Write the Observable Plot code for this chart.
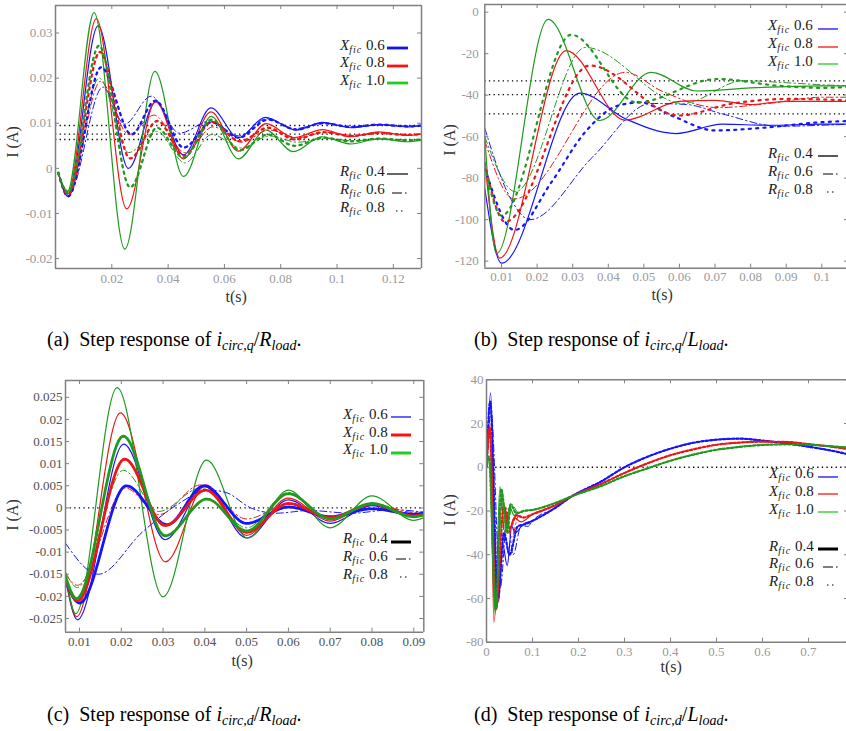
<!DOCTYPE html>
<html><head><meta charset="utf-8">
<script src="https://cdn.jsdelivr.net/npm/d3@7"></script>
<script src="https://cdn.jsdelivr.net/npm/@observablehq/plot@0.6"></script>
<style>
body{margin:0;background:#fff;width:846px;height:731px;overflow:hidden;position:relative;font-family:"Liberation Serif","DejaVu Serif",serif}
.panel{position:absolute}
.lab{position:absolute;color:#333;font-size:16px;white-space:nowrap;line-height:16px}
.leg{position:absolute;font-size:15px;color:#1a1a1a;white-space:nowrap;line-height:15px}
.leg sub{font-size:10px;vertical-align:-3px;letter-spacing:1px}
.cap{position:absolute;font-size:20px;color:#000;white-space:nowrap;line-height:22px}
.cap sub{font-size:14px;vertical-align:-4px}
</style></head><body>
<script>
// ---------- categories ----------
const XFIC = ["0.6", "0.8", "1.0"];
const RFIC = ["0.4", "0.6", "0.8"];

// ---------- panel (a) : i_circ,q / R_load ----------
const a_x06_r04 = [[0.0010,-0.0010],[0.0044,-0.0062],[0.0151,0.0316],[0.0259,0.0000],[0.0357,0.0148],[0.0455,0.0030],[0.0552,0.0134],[0.0650,0.0068],[0.0745,0.0113],[0.0855,0.0085],[0.0948,0.0102],[0.1050,0.0090],[0.1150,0.0097],[0.1250,0.0092],[0.1300,0.0094]];
const a_x08_r04 = [[0.0010,-0.0010],[0.0043,-0.0057],[0.0145,0.0332],[0.0253,-0.0090],[0.0355,0.0148],[0.0455,0.0021],[0.0552,0.0125],[0.0650,0.0038],[0.0748,0.0099],[0.0848,0.0068],[0.0948,0.0086],[0.1048,0.0070],[0.1148,0.0081],[0.1248,0.0073],[0.1300,0.0076]];
const a_x10_r04 = [[0.0010,-0.0010],[0.0042,-0.0052],[0.0137,0.0345],[0.0246,-0.0179],[0.0353,0.0215],[0.0455,-0.0018],[0.0553,0.0115],[0.0650,0.0021],[0.0747,0.0085],[0.0845,0.0037],[0.0945,0.0070],[0.1050,0.0054],[0.1148,0.0066],[0.1250,0.0059],[0.1300,0.0062]];
const a_x06_r06 = [[0.0010,-0.0010],[0.0045,-0.0060],[0.0168,0.0180],[0.0245,0.0098],[0.0340,0.0160],[0.0440,0.0078],[0.0550,0.0105],[0.0650,0.0072],[0.0750,0.0110],[0.0850,0.0088],[0.0950,0.0100],[0.1050,0.0092],[0.1150,0.0097],[0.1250,0.0094],[0.1300,0.0095]];
const a_x08_r06 = [[0.0010,-0.0010],[0.0045,-0.0056],[0.0160,0.0193],[0.0260,0.0075],[0.0350,0.0118],[0.0460,0.0035],[0.0560,0.0092],[0.0660,0.0058],[0.0760,0.0085],[0.0860,0.0068],[0.0960,0.0080],[0.1060,0.0073],[0.1160,0.0078],[0.1260,0.0075],[0.1300,0.0076]];
const a_x10_r06 = [[0.0010,-0.0010],[0.0045,-0.0050],[0.0155,0.0200],[0.0260,0.0035],[0.0360,0.0082],[0.0460,0.0012],[0.0555,0.0075],[0.0660,0.0045],[0.0760,0.0072],[0.0860,0.0058],[0.0960,0.0066],[0.1060,0.0061],[0.1160,0.0065],[0.1260,0.0063],[0.1300,0.0064]];
const a_x06_r08 = [[0.0010,-0.0010],[0.0045,-0.0062],[0.0162,0.0224],[0.0270,0.0075],[0.0355,0.0150],[0.0455,0.0046],[0.0555,0.0102],[0.0650,0.0068],[0.0755,0.0108],[0.0855,0.0086],[0.0950,0.0100],[0.1050,0.0092],[0.1150,0.0097],[0.1250,0.0093],[0.1300,0.0095]];
const a_x08_r08 = [[0.0010,-0.0010],[0.0045,-0.0058],[0.0158,0.0258],[0.0265,0.0022],[0.0362,0.0105],[0.0458,0.0028],[0.0555,0.0103],[0.0655,0.0060],[0.0755,0.0090],[0.0850,0.0064],[0.0950,0.0080],[0.1050,0.0072],[0.1150,0.0078],[0.1250,0.0074],[0.1300,0.0076]];
const a_x10_r08 = [[0.0010,-0.0010],[0.0044,-0.0054],[0.0155,0.0272],[0.0265,-0.0042],[0.0360,0.0090],[0.0455,0.0024],[0.0555,0.0108],[0.0655,0.0040],[0.0755,0.0075],[0.0850,0.0050],[0.0950,0.0068],[0.1050,0.0060],[0.1150,0.0066],[0.1250,0.0062],[0.1300,0.0064]];
const a_refs = [0.0095, 0.0076, 0.0064];
const a_xTicks = [0.02, 0.04, 0.06, 0.08, 0.1, 0.12];
const a_xLabels = ["0.02", "0.04", "0.06", "0.08", "0.1", "0.12"];
const a_yTicks = [-0.02, -0.01, 0, 0.01, 0.02, 0.03];
const a_yLabels = ["-0.02", "-0.01", "0", "0.01", "0.02", "0.03"];

// ---------- panel (b) : i_circ,q / L_load ----------
const b_x06_r04 = [[0.0053,-85],[0.0100,-121],[0.0320,-39],[0.0450,-51.5],[0.0590,-58.5],[0.0720,-54],[0.0850,-54.5],[0.1000,-54],[0.1075,-54]];
const b_x08_r04 = [[0.0053,-72],[0.0095,-118.5],[0.0282,-18.5],[0.0446,-52],[0.0600,-43],[0.0700,-42.5],[0.0800,-44.5],[0.0900,-43],[0.1075,-43]];
const b_x10_r04 = [[0.0053,-60],[0.0086,-116.4],[0.0231,-3.5],[0.0376,-52.2],[0.0520,-29],[0.0650,-38],[0.0800,-36.5],[0.1000,-35.5],[0.1075,-35.5]];
const b_x06_r06 = [[0.0053,-56],[0.0120,-88],[0.0180,-100],[0.0355,-70],[0.0520,-44],[0.0620,-44.5],[0.0720,-49],[0.0880,-55],[0.1000,-54.5],[0.1075,-54]];
const b_x08_r06 = [[0.0053,-62],[0.0135,-90],[0.0448,-29],[0.0550,-38],[0.0710,-46],[0.0850,-44],[0.1000,-41],[0.1075,-41]];
const b_x10_r06 = [[0.0053,-60],[0.0139,-86.5],[0.0336,-17],[0.0610,-44],[0.0780,-33],[0.0900,-34],[0.1000,-35],[0.1075,-35.5]];
const b_x06_r08 = [[0.0053,-75],[0.0137,-105],[0.0240,-82],[0.0334,-58],[0.0428,-45],[0.0490,-43.5],[0.0580,-50],[0.0700,-57],[0.0850,-55.5],[0.1000,-53],[0.1075,-52.5]];
const b_x08_r08 = [[0.0053,-73],[0.0110,-101],[0.0348,-25.7],[0.0598,-49.8],[0.0750,-44],[0.0910,-41.8],[0.1075,-42.5]];
const b_x10_r08 = [[0.0053,-74],[0.0100,-98],[0.0296,-10.9],[0.0480,-43.5],[0.0706,-32.2],[0.0880,-35.5],[0.1000,-36.5],[0.1075,-36]];
const b_refs = [-33.1, -39.7, -49.0];
const b_xTicks = [0.01, 0.02, 0.03, 0.04, 0.05, 0.06, 0.07, 0.08, 0.09, 0.1];
const b_xLabels = ["0.01", "0.02", "0.03", "0.04", "0.05", "0.06", "0.07", "0.08", "0.09", "0.1"];
const b_yTicks = [-120, -100, -80, -60, -40, -20, 0];
const b_yLabels = ["-120", "-100", "-80", "-60", "-40", "-20", "0"];

// ---------- panel (c) : i_circ,d / R_load ----------
const c_x06_r04 = [[0.00665,-0.0160],[0.0095,-0.0253],[0.0206,0.0144],[0.0305,-0.0072],[0.0400,0.0048],[0.0500,-0.0068],[0.0600,0.0018],[0.0700,-0.0035],[0.0800,0.0005],[0.0900,-0.0020],[0.0924,-0.0016]];
const c_x08_r04 = [[0.00665,-0.0155],[0.0093,-0.0246],[0.0198,0.0215],[0.0306,-0.0122],[0.0402,0.0052],[0.0500,-0.0062],[0.0600,0.0022],[0.0700,-0.0030],[0.0800,0.0010],[0.0900,-0.0020],[0.0924,-0.0017]];
const c_x10_r04 = [[0.00665,-0.0150],[0.0091,-0.0239],[0.0190,0.0272],[0.0300,-0.0201],[0.0404,0.0108],[0.0502,-0.0068],[0.0600,0.0040],[0.0700,-0.0045],[0.0800,0.0027],[0.0900,-0.0028],[0.0924,-0.0022]];
const c_x06_r06 = [[0.00665,-0.0080],[0.0145,-0.0150],[0.0250,-0.0055],[0.0330,0.0005],[0.0410,0.0040],[0.0450,0.0035],[0.0510,0.0000],[0.0570,-0.0012],[0.0650,-0.0006],[0.0750,-0.0012],[0.0850,-0.0004],[0.0924,-0.0010]];
const c_x08_r06 = [[0.00665,-0.0150],[0.0095,-0.0175],[0.0210,0.0045],[0.0290,-0.0015],[0.0390,0.0052],[0.0500,-0.0025],[0.0600,0.0008],[0.0700,-0.0020],[0.0800,0.0010],[0.0900,-0.0010],[0.0924,-0.0009]];
const c_x10_r06 = [[0.00665,-0.0145],[0.0095,-0.0180],[0.0205,0.0085],[0.0290,-0.0008],[0.0390,0.0045],[0.0500,-0.0045],[0.0600,0.0035],[0.0700,-0.0025],[0.0800,0.0010],[0.0900,-0.0015],[0.0924,-0.0013]];
const c_x06_r08 = [[0.00665,-0.0165],[0.0100,-0.0215],[0.0212,0.0050],[0.0310,-0.0038],[0.0398,0.0050],[0.0500,-0.0035],[0.0600,0.0002],[0.0700,-0.0020],[0.0800,-0.0002],[0.0900,-0.0014],[0.0924,-0.0012]];
const c_x08_r08 = [[0.00665,-0.0160],[0.0095,-0.0210],[0.0208,0.0110],[0.0305,-0.0040],[0.0402,0.0040],[0.0500,-0.0055],[0.0600,0.0010],[0.0700,-0.0022],[0.0800,0.0008],[0.0900,-0.0018],[0.0924,-0.0015]];
const c_x10_r08 = [[0.00665,-0.0155],[0.0093,-0.0205],[0.0205,0.0162],[0.0305,-0.0063],[0.0405,0.0020],[0.0500,-0.0052],[0.0600,0.0032],[0.0700,-0.0025],[0.0800,0.0010],[0.0900,-0.0020],[0.0924,-0.0016]];
const c_refs = [0];
const c_xTicks = [0.01, 0.02, 0.03, 0.04, 0.05, 0.06, 0.07, 0.08, 0.09];
const c_xLabels = ["0.01", "0.02", "0.03", "0.04", "0.05", "0.06", "0.07", "0.08", "0.09"];
const c_yTicks = [-0.025, -0.02, -0.015, -0.01, -0.005, 0, 0.005, 0.01, 0.015, 0.02, 0.025];
const c_yLabels = ["-0.025", "-0.02", "-0.015", "-0.01", "-0.005", "0", "0.005", "0.01", "0.015", "0.02", "0.025"];

// ---------- panel (d) : i_circ,d / L_load ----------
const d_x06_r04_start = [[0,0],[0.009,34],[0.022,-65],[0.035,-35],[0.045,-45],[0.055,-27],[0.062,-30],[0.080,-26]];
const d_x06_r06_start = [[0,0],[0.010,25],[0.030,-55],[0.045,-22],[0.058,-40],[0.075,-27],[0.090,-27]];
const d_x06_r08_start = [[0,0],[0.008,30],[0.025,-60],[0.038,-30],[0.050,-40],[0.068,-27],[0.085,-26]];
const d_x08_r04_start = [[0,0],[0.008,20],[0.016,-71],[0.034,-15],[0.048,-30],[0.060,-23],[0.075,-25]];
const d_x08_r06_start = [[0,0],[0.008,15],[0.025,-62],[0.042,-18],[0.055,-32],[0.070,-22],[0.085,-23]];
const d_x08_r08_start = [[0,0],[0.007,18],[0.020,-65],[0.038,-18],[0.050,-28],[0.065,-22],[0.080,-23]];
const d_x10_r04_start = [[0,0],[0.005,5],[0.019,-67],[0.029,-9],[0.040,-30],[0.050,-18],[0.060,-22],[0.080,-20]];
const d_x10_r06_start = [[0,0],[0.006,4],[0.022,-62],[0.035,-14],[0.046,-28],[0.055,-17],[0.070,-21],[0.085,-20]];
const d_x10_r08_start = [[0,0],[0.005,5],[0.020,-65],[0.032,-10],[0.045,-30],[0.052,-17],[0.065,-21],[0.080,-20]];
const d_x06_tail = [[0.10,-24.5],[0.15,-18.5],[0.186,-13.2],[0.25,-6.4],[0.30,0],[0.35,4.8],[0.40,8.5],[0.45,11.2],[0.50,12.6],[0.55,13.1],[0.60,12.2],[0.65,11.0],[0.70,9.4],[0.75,7.6],[0.787,5.9]];
const d_x08_tail = [[0.10,-21.5],[0.15,-17.3],[0.186,-13.2],[0.25,-7.5],[0.30,-2.6],[0.35,1.8],[0.40,5.5],[0.45,8.2],[0.50,10.3],[0.55,11.3],[0.60,11.7],[0.65,11.6],[0.70,10.6],[0.75,9.4],[0.787,8.3]];
const d_x10_tail = [[0.10,-19.5],[0.15,-16.3],[0.186,-13.2],[0.25,-8.5],[0.30,-4.1],[0.35,-0.5],[0.40,3.0],[0.45,5.8],[0.50,8.0],[0.55,9.3],[0.60,10.2],[0.65,10.5],[0.70,10.3],[0.75,9.6],[0.787,9.0]];
const d_refs = [0];
const d_xTicks = [0, 0.1, 0.2, 0.3, 0.4, 0.5, 0.6, 0.7];
const d_xLabels = ["0", "0.1", "0.2", "0.3", "0.4", "0.5", "0.6", "0.7"];
const d_yTicks = [-80, -60, -40, -20, 0, 20, 40];
const d_yLabels = ["-80", "-60", "-40", "-20", "0", "20", "40"];

// ---------- colours ----------
const CURVE_COLORS = ["#1414ff", "#f01414", "#1f9a1f"];
const LEGEND_COLORS = ["#1010ff", "#ff1010", "#22cc22"];

function panel(cfg) {
  const rows = cfg.series.flatMap(s => s.data.map(([t, I]) => ({t, I, X: s.X, R: s.R})));
  const fw = cfg.width - cfg.ml - cfg.mr, fh = cfg.height - cfg.mt - cfg.mb;
  const [x0, x1] = cfg.xDomain, [y0, y1] = cfg.yDomain;
  const xl = new Map(cfg.xTicks.map((v, i) => [v, cfg.xLabels[i]]));
  const yl = new Map(cfg.yTicks.map((v, i) => [v, cfg.yLabels[i]]));
  const fr = {stroke: "#808080", strokeWidth: 1.5};
  const tk = {stroke: "#808080", strokeWidth: 1};
  const marks = [
    Plot.ruleY(cfg.refs, {stroke: "#000", strokeWidth: 1.3, strokeDasharray: "1.3,3.3"}),
    ...RFIC.map(R => Plot.line(rows.filter(d => d.R === R), {x: "t", y: "I", z: "X", stroke: "X", curve: "monotone-x", clip: true, ...cfg.styles[R]})),
    Plot.tickX(cfg.xTicks, {x: d => d, insetBottom: fh - 4, ...tk}),
    Plot.tickX(cfg.xTicks, {x: d => d, insetTop: fh - 4, ...tk}),
    Plot.tickY(cfg.yTicks, {y: d => d, insetRight: fw - 4, ...tk}),
    Plot.tickY(cfg.yTicks, {y: d => d, insetLeft: fw - 4, ...tk}),
    Plot.ruleX([x0], fr), Plot.ruleY([y0], fr), Plot.ruleY([y1], fr)
  ];
  if (cfg.rightBorder) marks.push(Plot.ruleX([x1], fr));
  marks.push(Plot.axisX(cfg.xTicks, {tickSize: 0, tickPadding: cfg.xPad, tickFormat: d => xl.get(d), color: cfg.tickColor}));
  marks.push(Plot.axisY(cfg.yTicks, {tickSize: 0, tickPadding: cfg.yPad, tickFormat: d => yl.get(d), color: cfg.tickColor}));
  const svg = Plot.plot({
    width: cfg.width, height: cfg.height,
    marginLeft: cfg.ml, marginRight: cfg.mr, marginTop: cfg.mt, marginBottom: cfg.mb,
    x: {domain: cfg.xDomain, label: null},
    y: {domain: cfg.yDomain, label: null},
    color: {domain: XFIC, range: CURVE_COLORS},
    style: {fontFamily: "Liberation Serif, DejaVu Serif, serif", fontSize: "13px", background: "transparent", overflow: "visible"},
    marks
  });
  svg.classList.add("panel");
  svg.style.left = cfg.left + "px";
  svg.style.top = cfg.top + "px";
  document.body.appendChild(svg);
}

function mk(dataMap) {
  const s = [];
  XFIC.forEach((X, i) => RFIC.forEach((R, j) => s.push({X, R, data: dataMap[i][j]})));
  return s;
}

panel({
  left: 0, top: 0, width: 425, height: 305, ml: 55, mr: 4, mt: 5, mb: 37,
  xDomain: [0, 0.13], yDomain: [-0.0222, 0.0361],
  xTicks: a_xTicks, xLabels: a_xLabels, yTicks: a_yTicks, yLabels: a_yLabels,
  xPad: 5, yPad: 3, tickColor: "#9a9a9a", rightBorder: true, refs: a_refs,
  styles: {"0.4": {strokeWidth: 1.2}, "0.6": {strokeWidth: 1, strokeDasharray: "7,3,1.5,3"}, "0.8": {strokeWidth: 2.3, strokeDasharray: "2.2,4.4"}},
  series: mk([[a_x06_r04, a_x06_r06, a_x06_r08], [a_x08_r04, a_x08_r06, a_x08_r08], [a_x10_r04, a_x10_r06, a_x10_r08]])
});
panel({
  left: 425, top: 0, width: 423, height: 305, ml: 59.3, mr: 0, mt: 4, mb: 37.3,
  xDomain: [0.0053, 0.1075], yDomain: [-123.4, 3.7],
  xTicks: b_xTicks, xLabels: b_xLabels, yTicks: b_yTicks, yLabels: b_yLabels,
  xPad: 4, yPad: 6, tickColor: "#9a9a9a", rightBorder: false, refs: b_refs,
  styles: {"0.4": {strokeWidth: 1.2}, "0.6": {strokeWidth: 1, strokeDasharray: "7,3,1.5,3"}, "0.8": {strokeWidth: 2.2, strokeDasharray: "2.1,5.2"}},
  series: mk([[b_x06_r04, b_x06_r06, b_x06_r08], [b_x08_r04, b_x08_r06, b_x08_r08], [b_x10_r04, b_x10_r06, b_x10_r08]])
});
panel({
  left: 0, top: 365, width: 425, height: 305, ml: 65, mr: 1.7, mt: 15, mb: 38.3,
  xDomain: [0.00665, 0.0924], yDomain: [-0.0281, 0.0288],
  xTicks: c_xTicks, xLabels: c_xLabels, yTicks: c_yTicks, yLabels: c_yLabels,
  xPad: 5, yPad: 3, tickColor: "#505050", rightBorder: true, refs: c_refs,
  styles: {"0.4": {strokeWidth: 1.2}, "0.6": {strokeWidth: 1, strokeDasharray: "7,3,1.5,3"}, "0.8": {strokeWidth: 2.8, strokeDasharray: "3,1"}},
  series: mk([[c_x06_r04, c_x06_r06, c_x06_r08], [c_x08_r04, c_x08_r06, c_x08_r08], [c_x10_r04, c_x10_r06, c_x10_r08]])
});
panel({
  left: 425, top: 365, width: 423, height: 305, ml: 61, mr: 0, mt: 14.3, mb: 28.3,
  xDomain: [0, 0.787], yDomain: [-80, 40],
  xTicks: d_xTicks, xLabels: d_xLabels, yTicks: d_yTicks, yLabels: d_yLabels,
  xPad: 5, yPad: 3, tickColor: "#9a9a9a", rightBorder: false, refs: d_refs,
  styles: {"0.4": {strokeWidth: 1.2}, "0.6": {strokeWidth: 1, strokeDasharray: "7,3,1.5,3"}, "0.8": {strokeWidth: 2.2, strokeDasharray: "2.2,2.2"}},
  series: mk([
    [d_x06_r04_start.concat(d_x06_tail), d_x06_r06_start.concat(d_x06_tail), d_x06_r08_start.concat(d_x06_tail)],
    [d_x08_r04_start.concat(d_x08_tail), d_x08_r06_start.concat(d_x08_tail), d_x08_r08_start.concat(d_x08_tail)],
    [d_x10_r04_start.concat(d_x10_tail), d_x10_r06_start.concat(d_x10_tail), d_x10_r08_start.concat(d_x10_tail)]
  ])
});

// ---------- axis titles ----------
function label(text, cx, cy, rotate) {
  const el = document.createElement("div");
  el.className = "lab";
  el.textContent = text;
  document.body.appendChild(el);
  const w = el.offsetWidth, h = el.offsetHeight;
  el.style.left = (cx - w / 2) + "px";
  el.style.top = (cy - h / 2) + "px";
  if (rotate) el.style.transform = "rotate(-90deg)";
}
label("t(s)", 236, 297); label("I (A)", 13, 142, true);
label("t(s)", 662, 295); label("I (A)", 450, 140, true);
label("t(s)", 242, 661); label("I (A)", 13, 515, true);
label("t(s)", 671, 667); label("I (A)", 450, 510, true);

// ---------- legends ----------
function legendRow(textLeft, cy, html, line) {
  const el = document.createElement("div");
  el.className = "leg";
  el.innerHTML = html;
  document.body.appendChild(el);
  el.style.left = textLeft + "px";
  el.style.top = (cy - el.offsetHeight / 2 - 1) + "px";
  const ns = "http://www.w3.org/2000/svg";
  const s = document.createElementNS(ns, "svg");
  s.setAttribute("width", line.x2 - line.x1 + 4);
  s.setAttribute("height", 8);
  s.style.position = "absolute";
  s.style.left = (line.x1 - 2) + "px";
  s.style.top = (cy - 4) + "px";
  const l = document.createElementNS(ns, "line");
  l.setAttribute("x1", 2); l.setAttribute("x2", line.x2 - line.x1 + 2);
  l.setAttribute("y1", 4); l.setAttribute("y2", 4);
  l.setAttribute("stroke", line.color);
  l.setAttribute("stroke-width", line.w);
  if (line.dash) l.setAttribute("stroke-dasharray", line.dash);
  s.appendChild(l);
  document.body.appendChild(s);
}
const xHtml = v => `<i>X</i><sub><i>fic</i></sub> ${v}`;
const rHtml = v => `<i>R</i><sub><i>fic</i></sub> ${v}`;
function legend(textLeft, lx1, lx2, xRows, rRows, xWidths, rWidth) {
  XFIC.forEach((v, i) => legendRow(textLeft, xRows[i], xHtml(v), {x1: lx1, x2: lx2, color: LEGEND_COLORS[i], w: xWidths[i]}));
  legendRow(textLeft, rRows[0], rHtml(RFIC[0]), {x1: lx1, x2: lx2, color: "#000", w: rWidth});
  legendRow(textLeft, rRows[1], rHtml(RFIC[1]), {x1: lx1 + 5, x2: lx2, color: "#000", w: 1.2, dash: "10,3,1.5,20"});
  legendRow(textLeft, rRows[2], rHtml(RFIC[2]), {x1: lx1 + 9, x2: lx2 - 2, color: "#000", w: 1.2, dash: "1.5,3.5"});
}
legend(340, 387, 408, [48.3, 65.7, 83.3], [174.3, 192.7, 210.7], [2.8, 2.8, 2.8], 1.2);
legend(768, 818, 838, [28.7, 46.7, 64.3], [156, 174.3, 192.3], [1.3, 1.3, 1.3], 1.3);
legend(343, 391, 411, [417.3, 435, 452.7], [541.7, 559.3, 577.3], [1.3, 3, 3], 3);
legend(769, 818, 838, [476.7, 494.3, 512.3], [549, 566.7, 584.7], [1.3, 1.3, 1.3], 3);

// ---------- captions ----------
function caption(html, left, top) {
  const el = document.createElement("div");
  el.className = "cap";
  el.innerHTML = html;
  el.style.left = left + "px";
  el.style.top = top + "px";
  document.body.appendChild(el);
}
caption("(a)&nbsp; Step response of <i>i</i><sub><i>circ,q</i></sub>/<i>R</i><sub><i>load</i></sub>.", 47, 328);
caption("(b)&nbsp; Step response of <i>i</i><sub><i>circ,q</i></sub>/<i>L</i><sub><i>load</i></sub>.", 474, 328);
caption("(c)&nbsp; Step response of <i>i</i><sub><i>circ,d</i></sub>/<i>R</i><sub><i>load</i></sub>.", 47, 703);
caption("(d)&nbsp; Step response of <i>i</i><sub><i>circ,d</i></sub>/<i>L</i><sub><i>load</i></sub>.", 474, 703);
</script>
</body></html>
